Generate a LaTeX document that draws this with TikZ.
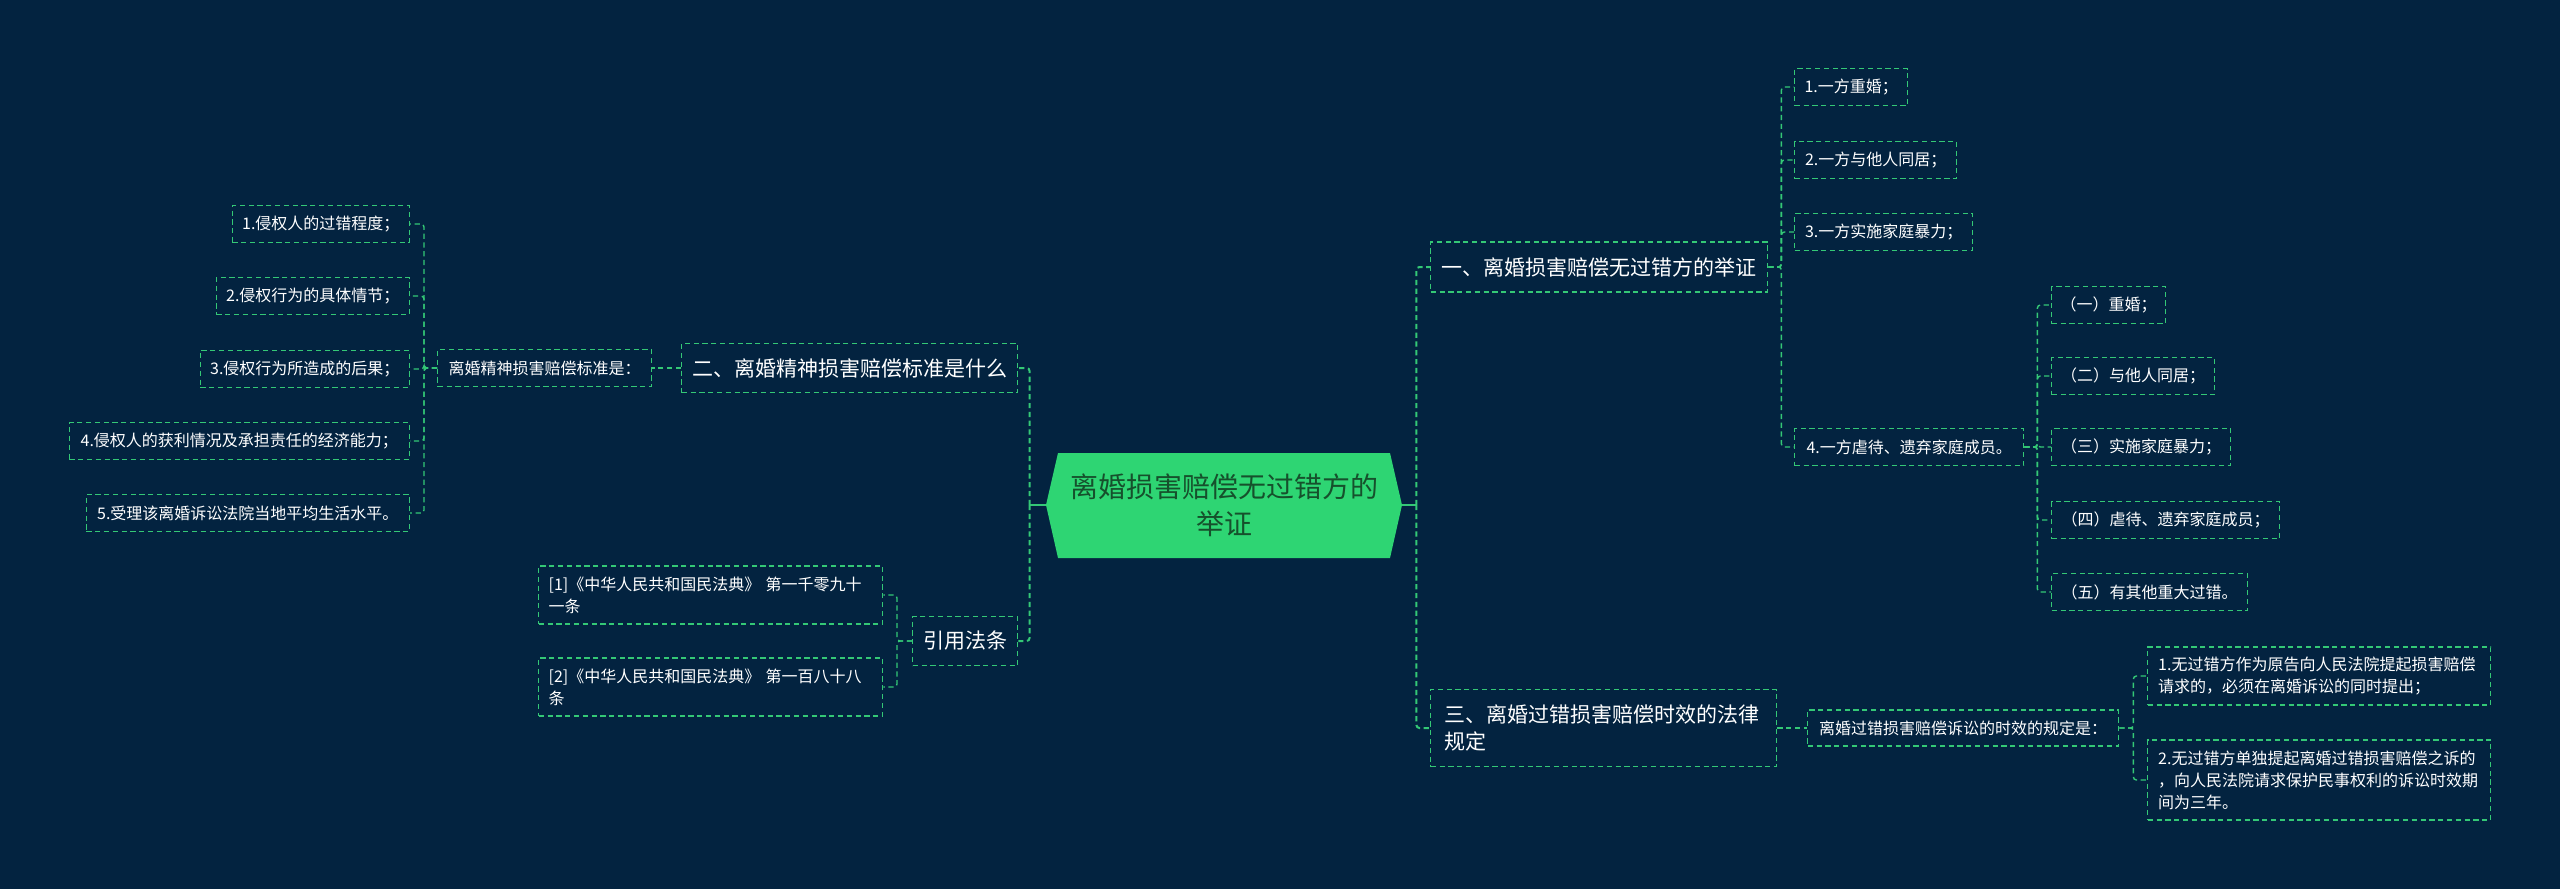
\documentclass[tikz,border=0pt]{standalone}
\usepackage{fontspec}
\setmainfont{Noto Sans CJK SC}
\definecolor{bg}{RGB}{3,35,64}
\definecolor{ln}{RGB}{52,200,118}
\definecolor{cfill}{RGB}{46,213,115}
\definecolor{ctext}{RGB}{22,80,44}
\begin{document}
\begin{tikzpicture}[x=0.5pt,y=-0.5pt,
  dsh/.style={dash pattern=on 2.6pt off 1.8pt},
  bx/.style={draw=ln, line width=0.7pt, dsh, text=white, inner sep=0pt, minimum height=#1*0.5pt},
  bx/.default=37,
  bw/.style={minimum width=#1*0.5pt},
  tw/.style={text width=#1*0.5pt, align=left},
  sm/.style={font=\fontsize{8pt}{11pt}\selectfont},
  md/.style={font=\fontsize{10.5pt}{13.5pt}\selectfont},
  conn/.style={draw=ln, line width=0.7pt, dsh, rounded corners=1.5pt},
  mconn/.style={draw=ln, line width=1pt, dsh, rounded corners=1.5pt},
  stub/.style={draw=ln, line width=1pt}
]
\fill[bg] (0,0) rectangle (2560,889);
\useasboundingbox (0,0) rectangle (2560,889);

% center
\fill[cfill] (1058,453) -- (1390,453) -- (1402,505) -- (1390,558) -- (1058,558) -- (1046,505) -- cycle;
\node[inner sep=0pt, minimum width=178pt, minimum height=52.5pt, text=ctext, align=center,
      font=\fontsize{14pt}{18.5pt}\selectfont] (cen) at (1224,505) {离婚损害赔偿无过错方的\\举证};

% left branch
\node[bx=49, md, bw=336, anchor=west] (er) at (681,368) {二、离婚精神损害赔偿标准是什么};
\node[bx, sm, bw=214, anchor=west] (jing) at (437,368) {离婚精神损害赔偿标准是：};
\node[bx, sm, bw=177, anchor=east] (l1) at (410,224) {1.侵权人的过错程度；};
\node[bx, sm, bw=193, anchor=east] (l2) at (410,296) {2.侵权行为的具体情节；};
\node[bx, sm, bw=209, anchor=east] (l3) at (410,369) {3.侵权行为所造成的后果；};
\node[bx, sm, bw=340, anchor=east] (l4) at (410,441) {4.侵权人的获利情况及承担责任的经济能力；};
\node[bx, sm, bw=323, anchor=east] (l5) at (410,513) {5.受理该离婚诉讼法院当地平均生活水平。};

\node[bx=49, md, bw=105, anchor=west] (yin) at (912,641) {引用法条};
\node[bx=58, sm, bw=344, tw=324, anchor=west] (f1) at (538,595) {[1]《中华人民共和国民法典》 第一千零九十\\一条};
\node[bx=58, sm, bw=344, tw=324, anchor=west] (f2) at (538,687) {[2]《中华人民共和国民法典》 第一百八十八\\条};

% right branch
\node[bx=50, md, bw=337, anchor=west] (yi) at (1430,267) {一、离婚损害赔偿无过错方的举证};
\node[bx, sm, bw=113, anchor=west] (r1) at (1794,87) {1.一方重婚；};
\node[bx, sm, bw=162, anchor=west] (r2) at (1794,160) {2.一方与他人同居；};
\node[bx, sm, bw=178, anchor=west] (r3) at (1794,232) {3.一方实施家庭暴力；};
\node[bx, sm, bw=229, anchor=west] (r4) at (1794,447) {4.一方虐待、遗弃家庭成员。};
\node[bx, sm, bw=114, anchor=west] (c1) at (2051,305) {（一）重婚；};
\node[bx, sm, bw=163, anchor=west] (c2) at (2051,376) {（二）与他人同居；};
\node[bx, sm, bw=179, anchor=west] (c3) at (2051,447) {（三）实施家庭暴力；};
\node[bx, sm, bw=228, anchor=west] (c4) at (2051,520) {（四）虐待、遗弃家庭成员；};
\node[bx, sm, bw=196, anchor=west] (c5) at (2051,592) {（五）有其他重大过错。};

\node[bx=77, md, bw=346, tw=318, anchor=west] (san) at (1430,728) {三、离婚过错损害赔偿时效的法律\\规定};
\node[bx=36, sm, bw=311, anchor=west] (gui) at (1807,728) {离婚过错损害赔偿诉讼的时效的规定是：};
\node[bx=58, sm, bw=343, tw=322, anchor=west] (s1) at (2147,676) {1.无过错方作为原告向人民法院提起损害赔偿\\请求的，必须在离婚诉讼的同时提出；};
\node[bx=80, sm, bw=343, tw=322, anchor=west] (s2) at (2147,780) {2.无过错方单独提起离婚过错损害赔偿之诉的\\，向人民法院请求保护民事权利的诉讼时效期\\间为三年。};

% connectors: center
\draw[stub] (cen.west) -- ++(-16,0) coordinate (lb);
\draw[stub] (cen.east) -- ++(14,0) coordinate (rb);
\draw[mconn] (lb) |- (er.east);
\draw[mconn] (lb) |- (yin.east);
\draw[mconn] (rb) |- (yi.west);
\draw[mconn] (rb) |- (san.west);

% left sub
\draw[conn] (er.west) -- (jing.east);
\foreach \n in {l1,l2,l3,l4,l5} \draw[conn] (jing.west) -- ++(-13,0) |- (\n.east);
\foreach \n in {f1,f2} \draw[conn] (yin.west) -- ++(-15,0) |- (\n.east);

% right sub
\foreach \n in {r1,r2,r3,r4} \draw[conn] (yi.east) -- ++(13,0) |- (\n.west);
\foreach \n in {c1,c2,c3,c4,c5} \draw[conn] (r4.east) -- ++(13,0) |- (\n.west);
\draw[conn] (san.east) -- (gui.west);
\foreach \n in {s1,s2} \draw[conn] (gui.east) -- ++(14,0) |- (\n.west);
\end{tikzpicture}
\end{document}
